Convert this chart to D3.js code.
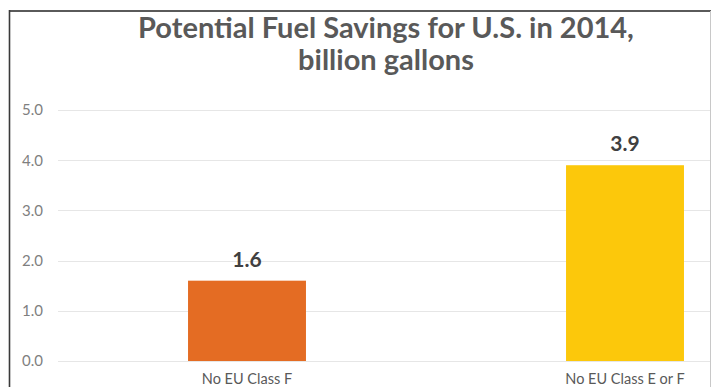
<!DOCTYPE html>
<html>
<head>
<meta charset="utf-8">
<script src="https://cdn.jsdelivr.net/npm/d3@7"></script>
<style>
  html, body { margin: 0; padding: 0; background: #fff; }
  svg { display: block; }
  text { font-family: Lato, "Open Sans", sans-serif; }
</style>
</head>
<body>
<svg id="chart" width="712" height="387"></svg>
<script>
// Potential fuel savings by scenario (billion gallons)
const categories = ["No EU Class F", "No EU Class E or F"];
const savings = [1.6, 3.9];
const barColors = ["#E46C23", "#FCC80B"];
const yTicks = [0, 1, 2, 3, 4, 5];
const titleLines = ["Potential Fuel Savings for U.S. in 2014,", "billion gallons"];

const svg = d3.select("#chart");

// frame around the chart
svg.append("line").attr("x1", 9.5).attr("x2", 711).attr("y1", 11).attr("y2", 11)
  .attr("stroke", "#5a5a5a").attr("stroke-width", 2);
svg.append("line").attr("x1", 9.5).attr("x2", 9.5).attr("y1", 10).attr("y2", 387)
  .attr("stroke", "#3a3a3a").attr("stroke-width", 1.6);
svg.append("line").attr("x1", 710.5).attr("x2", 710.5).attr("y1", 11).attr("y2", 387)
  .attr("stroke", "#c8c8c8").attr("stroke-width", 1);

const x = d3.scaleBand().domain(categories).range([58, 814]).paddingInner(0.688).paddingOuter(0.344);
const y = d3.scaleLinear().domain([0, 5]).range([361, 110]);

const plot = svg.append("g");
// clip the plot area at the right frame edge
svg.append("clipPath").attr("id", "plotClip").append("rect")
  .attr("x", 10).attr("y", 12).attr("width", 700).attr("height", 387);
plot.attr("clip-path", "url(#plotClip)");

// horizontal gridlines
plot.append("g").selectAll("line").data(yTicks).join("line")
  .attr("x1", 58).attr("x2", 814)
  .attr("y1", d => Math.round(y(d)) + 0.5).attr("y2", d => Math.round(y(d)) + 0.5)
  .attr("stroke", "#e6e6e6").attr("stroke-width", 1);

// y-axis tick labels
const yAxis = d3.axisLeft(y).tickValues(yTicks).tickFormat(d3.format(".1f")).tickSize(0).tickPadding(0);
const yg = svg.append("g").attr("transform", "translate(43,0)").call(yAxis);
yg.select(".domain").remove();
yg.selectAll("text").attr("fill", "#7f7f7f").attr("font-size", "15px")
  .attr("font-family", "Lato, 'Open Sans', sans-serif");

// bars
plot.append("g").selectAll("rect").data(savings).join("rect")
  .attr("x", (d, i) => x(categories[i]))
  .attr("width", x.bandwidth())
  .attr("y", d => y(d))
  .attr("height", d => y(0) - y(d))
  .attr("fill", (d, i) => barColors[i]);

// value labels
plot.append("g").selectAll("text").data(savings).join("text")
  .attr("x", (d, i) => x(categories[i]) + x.bandwidth() / 2)
  .attr("y", d => y(d) - 14)
  .attr("text-anchor", "middle")
  .attr("font-size", "21px").attr("font-weight", "bold").attr("fill", "#404040")
  .text(d => d3.format(".1f")(d));

// category labels
plot.append("g").selectAll("text").data(categories).join("text")
  .attr("x", d => x(d) + x.bandwidth() / 2)
  .attr("y", 384)
  .attr("text-anchor", "middle")
  .attr("font-size", "14.5px").attr("fill", "#595959")
  .text(d => d);

// title
const title = svg.append("g");
title.selectAll("text").data(titleLines).join("text")
  .attr("x", 386)
  .attr("y", (d, i) => 38 + i * 32)
  .attr("text-anchor", "middle")
  .attr("font-size", "29px").attr("font-weight", "bold").attr("fill", "#595959")
  .text(d => d);
</script>
</body>
</html>
